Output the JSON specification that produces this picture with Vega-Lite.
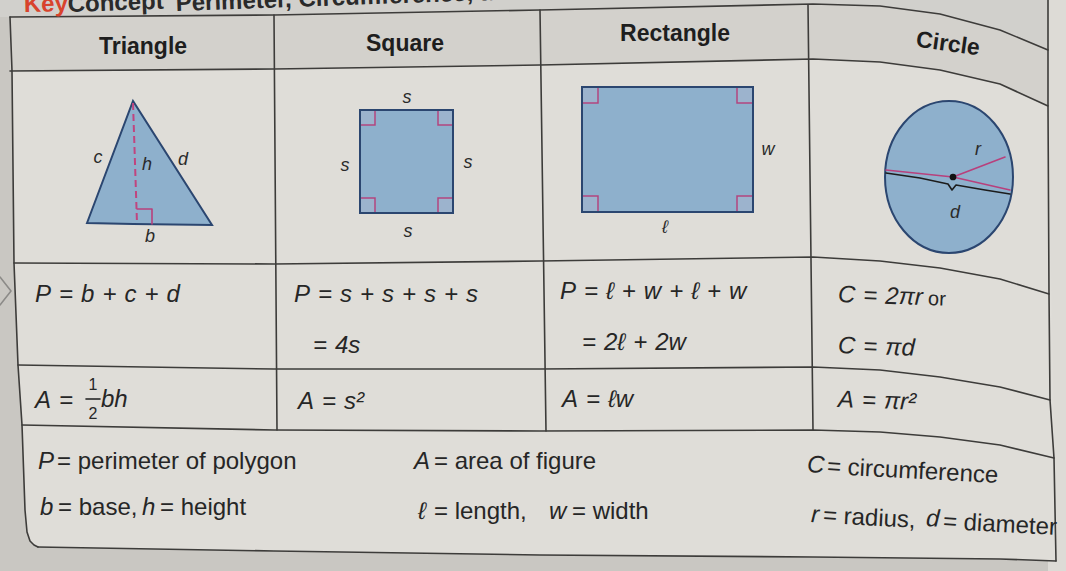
{
  "$schema": "https://vega.github.io/schema/vega-lite/v6.json",
  "width": 1066,
  "height": 571,
  "autosize": {"type": "none"},
  "padding": 0,
  "background": "#c9c7c2",
  "config": {"view": {"stroke": null}},
  "encoding": {
    "x": {"field": "x", "type": "quantitative", "scale": {"domain": [0, 1066], "nice": false, "zero": false}, "axis": null},
    "y": {"field": "y", "type": "quantitative", "scale": {"domain": [0, 571], "reverse": true, "nice": false, "zero": false}, "axis": null}
  },
  "datasets": {
    "strip": [{"x": 1048, "x2": 1066, "y": 0, "y2": 571}],
    "regions": [
      {"part": "title", "x": 0, "y": 0, "y2": 17},
      {"part": "title", "x": 10, "y": 0, "y2": 17},
      {"part": "title", "x": 274, "y": 0, "y2": 15},
      {"part": "title", "x": 540, "y": 0, "y2": 10},
      {"part": "title", "x": 813, "y": 0, "y2": 4},
      {"part": "title", "x": 880, "y": 0, "y2": 6},
      {"part": "title", "x": 940, "y": 0, "y2": 14},
      {"part": "title", "x": 1000, "y": 0, "y2": 30},
      {"part": "title", "x": 1048, "y": 0, "y2": 50},
      {"part": "header", "x": 10, "y": 17, "y2": 71},
      {"part": "header", "x": 274, "y": 15, "y2": 69},
      {"part": "header", "x": 540, "y": 10, "y2": 65},
      {"part": "header", "x": 813, "y": 4, "y2": 59},
      {"part": "header", "x": 880, "y": 6, "y2": 62},
      {"part": "header", "x": 940, "y": 14, "y2": 70},
      {"part": "header", "x": 1000, "y": 30, "y2": 84},
      {"part": "header", "x": 1048, "y": 50, "y2": 106},
      {"part": "body", "x": 12, "y": 71, "y2": 71},
      {"part": "body", "x": 14, "y": 71, "y2": 263},
      {"part": "body", "x": 18, "y": 71, "y2": 365},
      {"part": "body", "x": 22, "y": 71, "y2": 425},
      {"part": "body", "x": 25, "y": 71, "y2": 510},
      {"part": "body", "x": 27, "y": 71, "y2": 532},
      {"part": "body", "x": 30, "y": 71, "y2": 541},
      {"part": "body", "x": 34, "y": 71, "y2": 545},
      {"part": "body", "x": 38, "y": 71, "y2": 547},
      {"part": "body", "x": 274, "y": 69, "y2": 551},
      {"part": "body", "x": 540, "y": 65, "y2": 555},
      {"part": "body", "x": 813, "y": 59, "y2": 557},
      {"part": "body", "x": 880, "y": 62, "y2": 558},
      {"part": "body", "x": 940, "y": 70, "y2": 558},
      {"part": "body", "x": 1000, "y": 84, "y2": 559},
      {"part": "body", "x": 1048, "y": 106, "y2": 561},
      {"part": "body", "x": 1056, "y": 540, "y2": 561}
    ],
    "tri": [
      {"x": 87, "y": 223, "y2": 223},
      {"x": 133, "y": 101, "y2": 224},
      {"x": 212, "y": 225, "y2": 225}
    ],
    "shapes": [
      {"shape": "square", "x": 360, "x2": 453, "y": 110, "y2": 213},
      {"shape": "rectangle", "x": 582, "x2": 753, "y": 87, "y2": 212}
    ],
    "corners": [
      {"x": 360, "x2": 375, "y": 110, "y2": 125},
      {"x": 438, "x2": 453, "y": 110, "y2": 125},
      {"x": 360, "x2": 375, "y": 198, "y2": 213},
      {"x": 438, "x2": 453, "y": 198, "y2": 213},
      {"x": 582, "x2": 598, "y": 87, "y2": 103},
      {"x": 737, "x2": 753, "y": 87, "y2": 103},
      {"x": 582, "x2": 598, "y": 196, "y2": 212},
      {"x": 737, "x2": 753, "y": 196, "y2": 212}
    ],
    "ell": [{"x": 949, "y": 177}],
    "dot": [{"x": 953, "y": 177}],
    "dashed": [
      {"seq": 1, "x": 133, "y": 103},
      {"seq": 2, "x": 137, "y": 223}
    ],
    "paths": [
      {"id": "top", "ink": "grid", "seq": 1, "x": 10, "y": 17},
      {"id": "top", "ink": "grid", "seq": 2, "x": 274, "y": 15},
      {"id": "top", "ink": "grid", "seq": 3, "x": 540, "y": 10},
      {"id": "top", "ink": "grid", "seq": 4, "x": 813, "y": 4},
      {"id": "top", "ink": "grid", "seq": 5, "x": 880, "y": 6},
      {"id": "top", "ink": "grid", "seq": 6, "x": 940, "y": 14},
      {"id": "top", "ink": "grid", "seq": 7, "x": 1000, "y": 30},
      {"id": "top", "ink": "grid", "seq": 8, "x": 1048, "y": 50},
      {"id": "hb", "ink": "grid", "seq": 1, "x": 10, "y": 71},
      {"id": "hb", "ink": "grid", "seq": 2, "x": 274, "y": 69},
      {"id": "hb", "ink": "grid", "seq": 3, "x": 540, "y": 65},
      {"id": "hb", "ink": "grid", "seq": 4, "x": 813, "y": 59},
      {"id": "hb", "ink": "grid", "seq": 5, "x": 880, "y": 62},
      {"id": "hb", "ink": "grid", "seq": 6, "x": 940, "y": 70},
      {"id": "hb", "ink": "grid", "seq": 7, "x": 1000, "y": 84},
      {"id": "hb", "ink": "grid", "seq": 8, "x": 1048, "y": 106},
      {"id": "r1", "ink": "grid", "seq": 1, "x": 14, "y": 263},
      {"id": "r1", "ink": "grid", "seq": 2, "x": 274, "y": 264},
      {"id": "r1", "ink": "grid", "seq": 3, "x": 540, "y": 261},
      {"id": "r1", "ink": "grid", "seq": 4, "x": 813, "y": 257},
      {"id": "r1", "ink": "grid", "seq": 5, "x": 880, "y": 261},
      {"id": "r1", "ink": "grid", "seq": 6, "x": 940, "y": 268},
      {"id": "r1", "ink": "grid", "seq": 7, "x": 1000, "y": 279},
      {"id": "r1", "ink": "grid", "seq": 8, "x": 1049, "y": 294},
      {"id": "r2", "ink": "grid", "seq": 1, "x": 18, "y": 365},
      {"id": "r2", "ink": "grid", "seq": 2, "x": 274, "y": 369},
      {"id": "r2", "ink": "grid", "seq": 3, "x": 540, "y": 369},
      {"id": "r2", "ink": "grid", "seq": 4, "x": 813, "y": 367},
      {"id": "r2", "ink": "grid", "seq": 5, "x": 880, "y": 370},
      {"id": "r2", "ink": "grid", "seq": 6, "x": 940, "y": 377},
      {"id": "r2", "ink": "grid", "seq": 7, "x": 1000, "y": 387},
      {"id": "r2", "ink": "grid", "seq": 8, "x": 1050, "y": 400},
      {"id": "r3", "ink": "grid", "seq": 1, "x": 22, "y": 425},
      {"id": "r3", "ink": "grid", "seq": 2, "x": 274, "y": 430},
      {"id": "r3", "ink": "grid", "seq": 3, "x": 540, "y": 431},
      {"id": "r3", "ink": "grid", "seq": 4, "x": 813, "y": 430},
      {"id": "r3", "ink": "grid", "seq": 5, "x": 880, "y": 432},
      {"id": "r3", "ink": "grid", "seq": 6, "x": 940, "y": 437},
      {"id": "r3", "ink": "grid", "seq": 7, "x": 1000, "y": 445},
      {"id": "r3", "ink": "grid", "seq": 8, "x": 1054, "y": 458},
      {"id": "bot", "ink": "grid", "seq": 1, "x": 38, "y": 547},
      {"id": "bot", "ink": "grid", "seq": 2, "x": 274, "y": 551},
      {"id": "bot", "ink": "grid", "seq": 3, "x": 540, "y": 555},
      {"id": "bot", "ink": "grid", "seq": 4, "x": 813, "y": 557},
      {"id": "bot", "ink": "grid", "seq": 5, "x": 1000, "y": 559},
      {"id": "bot", "ink": "grid", "seq": 6, "x": 1056, "y": 561},
      {"id": "left", "ink": "grid", "seq": 1, "x": 10, "y": 17},
      {"id": "left", "ink": "grid", "seq": 2, "x": 12, "y": 71},
      {"id": "left", "ink": "grid", "seq": 3, "x": 14, "y": 263},
      {"id": "left", "ink": "grid", "seq": 4, "x": 18, "y": 365},
      {"id": "left", "ink": "grid", "seq": 5, "x": 22, "y": 425},
      {"id": "left", "ink": "grid", "seq": 6, "x": 25, "y": 510},
      {"id": "left", "ink": "grid", "seq": 7, "x": 27, "y": 532},
      {"id": "left", "ink": "grid", "seq": 8, "x": 30, "y": 541},
      {"id": "left", "ink": "grid", "seq": 9, "x": 34, "y": 545},
      {"id": "left", "ink": "grid", "seq": 10, "x": 38, "y": 547},
      {"id": "right", "ink": "grid", "seq": 1, "x": 1048, "y": 0},
      {"id": "right", "ink": "grid", "seq": 2, "x": 1048, "y": 106},
      {"id": "right", "ink": "grid", "seq": 3, "x": 1049, "y": 294},
      {"id": "right", "ink": "grid", "seq": 4, "x": 1050, "y": 400},
      {"id": "right", "ink": "grid", "seq": 5, "x": 1054, "y": 458},
      {"id": "right", "ink": "grid", "seq": 6, "x": 1056, "y": 561},
      {"id": "v1", "ink": "grid", "seq": 1, "x": 274, "y": 15},
      {"id": "v1", "ink": "grid", "seq": 2, "x": 277, "y": 430},
      {"id": "v2", "ink": "grid", "seq": 1, "x": 540, "y": 10},
      {"id": "v2", "ink": "grid", "seq": 2, "x": 546, "y": 431},
      {"id": "v3", "ink": "grid", "seq": 1, "x": 808, "y": 5},
      {"id": "v3", "ink": "grid", "seq": 2, "x": 813, "y": 430},
      {"id": "chev", "ink": "chev", "seq": 1, "x": 0, "y": 277},
      {"id": "chev", "ink": "chev", "seq": 2, "x": 11, "y": 291},
      {"id": "chev", "ink": "chev", "seq": 3, "x": 0, "y": 305},
      {"id": "tright", "ink": "magenta", "seq": 1, "x": 137, "y": 209},
      {"id": "tright", "ink": "magenta", "seq": 2, "x": 152, "y": 209},
      {"id": "tright", "ink": "magenta", "seq": 3, "x": 152, "y": 224},
      {"id": "diam", "ink": "magenta", "seq": 1, "x": 886, "y": 170},
      {"id": "diam", "ink": "magenta", "seq": 2, "x": 953, "y": 177},
      {"id": "diam", "ink": "magenta", "seq": 3, "x": 1010, "y": 190},
      {"id": "rad", "ink": "magenta", "seq": 1, "x": 953, "y": 177},
      {"id": "rad", "ink": "magenta", "seq": 2, "x": 1005, "y": 157},
      {"id": "brace", "ink": "black", "seq": 1, "x": 886, "y": 173},
      {"id": "brace", "ink": "black", "seq": 2, "x": 920, "y": 178},
      {"id": "brace", "ink": "black", "seq": 3, "x": 948, "y": 184},
      {"id": "brace", "ink": "black", "seq": 4, "x": 952, "y": 190},
      {"id": "brace", "ink": "black", "seq": 5, "x": 956, "y": 185},
      {"id": "brace", "ink": "black", "seq": 6, "x": 985, "y": 190},
      {"id": "brace", "ink": "black", "seq": 7, "x": 1010, "y": 194},
      {"id": "frac", "ink": "black", "seq": 1, "x": 86, "y": 399},
      {"id": "frac", "ink": "black", "seq": 2, "x": 100, "y": 399}
    ],
    "texts": [
      {"t": "Key", "kind": "titleKey", "x": 24, "y": 12},
      {"t": "Concept", "kind": "title", "x": 68, "y": 12},
      {"t": "Perimeter, Circumference, and Area", "kind": "title", "x": 176, "y": 11},
      {"t": "Triangle", "kind": "head", "x": 143, "y": 47},
      {"t": "Square", "kind": "head", "x": 405, "y": 44},
      {"t": "Rectangle", "kind": "head", "x": 675, "y": 34},
      {"t": "Circle", "kind": "headTilt", "x": 948, "y": 44},
      {"t": "c", "kind": "lab", "x": 98, "y": 158},
      {"t": "h", "kind": "lab", "x": 147, "y": 165},
      {"t": "d", "kind": "lab", "x": 183, "y": 160},
      {"t": "b", "kind": "lab", "x": 150, "y": 237},
      {"t": "s", "kind": "lab", "x": 407, "y": 98},
      {"t": "s", "kind": "lab", "x": 345, "y": 166},
      {"t": "s", "kind": "lab", "x": 468, "y": 163},
      {"t": "s", "kind": "lab", "x": 408, "y": 232},
      {"t": "w", "kind": "lab", "x": 768, "y": 150},
      {"t": "ℓ", "kind": "lab", "x": 665, "y": 228},
      {"t": "r", "kind": "lab", "x": 978, "y": 150},
      {"t": "d", "kind": "lab", "x": 955, "y": 213},
      {"t": "P\u2004=\u2004b\u2004+\u2004c\u2004+\u2004d", "kind": "math", "x": 35, "y": 295},
      {"t": "P\u2004=\u2004s\u2004+\u2004s\u2004+\u2004s\u2004+\u2004s", "kind": "math", "x": 294, "y": 295},
      {"t": "=\u20044s", "kind": "math", "x": 313, "y": 346},
      {"t": "P\u2004=\u2004ℓ\u2004+\u2004w\u2004+\u2004ℓ\u2004+\u2004w", "kind": "math", "x": 560, "y": 292},
      {"t": "=\u20042ℓ\u2004+\u20042w", "kind": "math", "x": 582, "y": 343},
      {"t": "A\u2004=", "kind": "math", "x": 35, "y": 401},
      {"t": "bh", "kind": "math", "x": 101, "y": 400},
      {"t": "A\u2004=\u2004s²", "kind": "math", "x": 298, "y": 402},
      {"t": "A\u2004=\u2004ℓw", "kind": "math", "x": 562, "y": 400},
      {"t": "C\u2004=\u20042πr", "kind": "mathC", "x": 838, "y": 295},
      {"t": "C\u2004=\u2004πd", "kind": "mathC", "x": 838, "y": 346},
      {"t": "A\u2004=\u2004πr²", "kind": "mathC", "x": 838, "y": 400},
      {"t": "or", "kind": "or", "x": 928, "y": 299},
      {"t": "1", "kind": "frac", "x": 93, "y": 385},
      {"t": "2", "kind": "frac", "x": 93, "y": 414},
      {"t": "P", "kind": "var", "x": 38, "y": 462},
      {"t": "= perimeter of polygon", "kind": "word", "x": 57, "y": 462},
      {"t": "b", "kind": "var", "x": 40, "y": 508},
      {"t": "= base,", "kind": "word", "x": 58, "y": 508},
      {"t": "h", "kind": "var", "x": 142, "y": 508},
      {"t": "= height", "kind": "word", "x": 160, "y": 508},
      {"t": "A", "kind": "var", "x": 414, "y": 462},
      {"t": "= area of figure", "kind": "word", "x": 434, "y": 462},
      {"t": "ℓ", "kind": "var", "x": 418, "y": 512},
      {"t": "= length,", "kind": "word", "x": 434, "y": 512},
      {"t": "w", "kind": "var", "x": 549, "y": 512},
      {"t": "= width", "kind": "word", "x": 572, "y": 512},
      {"t": "C", "kind": "varC", "x": 807, "y": 465},
      {"t": "= circumference", "kind": "wordC", "x": 827, "y": 467},
      {"t": "r", "kind": "varC", "x": 811, "y": 515},
      {"t": "= radius,", "kind": "wordC", "x": 823, "y": 516},
      {"t": "d", "kind": "varC", "x": 926, "y": 519},
      {"t": "= diameter", "kind": "wordC", "x": 943, "y": 522}
    ]
  },
  "layer": [
    {
      "data": {"name": "strip"},
      "mark": {"type": "rect", "color": "#dddbd6"},
      "encoding": {"x2": {"field": "x2"}, "y2": {"field": "y2"}}
    },
    {
      "data": {"name": "regions"},
      "mark": {"type": "area", "interpolate": "linear"},
      "encoding": {
        "y": {"field": "y", "type": "quantitative", "stack": null, "scale": {"domain": [0, 571], "reverse": true, "nice": false, "zero": false}, "axis": null},
        "y2": {"field": "y2"},
        "color": {"field": "part", "type": "nominal", "scale": {"domain": ["title", "header", "body"], "range": ["#d1d0cc", "#d3d1cc", "#dfddd8"]}, "legend": null}
      }
    },
    {
      "data": {"name": "tri"},
      "mark": {"type": "area", "fill": "#8eb0cc", "stroke": "#2b4670", "strokeWidth": 2, "strokeJoin": "miter", "interpolate": "linear"},
      "encoding": {
        "y": {"field": "y", "type": "quantitative", "stack": null, "scale": {"domain": [0, 571], "reverse": true, "nice": false, "zero": false}, "axis": null},
        "y2": {"field": "y2"}
      }
    },
    {
      "data": {"name": "shapes"},
      "mark": {"type": "rect", "fill": "#8eb0cc", "stroke": "#2b4670", "strokeWidth": 2},
      "encoding": {"x2": {"field": "x2"}, "y2": {"field": "y2"}}
    },
    {
      "data": {"name": "corners"},
      "mark": {"type": "rect", "fill": "#9cb3cd", "stroke": "#b2457f", "strokeWidth": 1.5},
      "encoding": {"x2": {"field": "x2"}, "y2": {"field": "y2"}}
    },
    {
      "data": {"name": "shapes"},
      "mark": {"type": "rect", "fill": "#8eb0cc", "fillOpacity": 0, "stroke": "#2b4670", "strokeWidth": 2},
      "encoding": {"x2": {"field": "x2"}, "y2": {"field": "y2"}}
    },
    {
      "data": {"name": "ell"},
      "mark": {"type": "point", "shape": "M0,-1C0.465,-1 0.842,-0.552 0.842,0C0.842,0.552 0.465,1 0,1C-0.465,1 -0.842,0.552 -0.842,0C-0.842,-0.552 -0.465,-1 0,-1Z", "size": 23104, "filled": true, "fill": "#8eb0cc", "stroke": "#2b4670", "strokeWidth": 2, "opacity": 1}
    },
    {
      "data": {"name": "paths"},
      "mark": {"type": "line", "strokeWidth": 1.6, "strokeCap": "round", "strokeJoin": "round"},
      "encoding": {
        "detail": {"field": "id"},
        "order": {"field": "seq", "type": "quantitative"},
        "color": {"field": "ink", "type": "nominal", "scale": {"domain": ["grid", "magenta", "black", "chev"], "range": ["#3d3c3a", "#b8407c", "#1c1c1c", "#8c8b88"]}, "legend": null}
      }
    },
    {
      "data": {"name": "dashed"},
      "mark": {"type": "line", "color": "#c0457f", "strokeWidth": 2, "strokeDash": [7, 4]},
      "encoding": {"order": {"field": "seq", "type": "quantitative"}}
    },
    {
      "data": {"name": "dot"},
      "mark": {"type": "point", "filled": true, "color": "#111111", "size": 45, "opacity": 1}
    },
    {
      "data": {"name": "texts"},
      "transform": [{"filter": "datum.kind === 'titleKey'"}],
      "mark": {"type": "text", "font": "Liberation Sans", "fontSize": 24, "fontWeight": "bold", "align": "left", "baseline": "alphabetic", "color": "#d8432c", "angle": -1},
      "encoding": {"text": {"field": "t"}}
    },
    {
      "data": {"name": "texts"},
      "transform": [{"filter": "datum.kind === 'title'"}],
      "mark": {"type": "text", "font": "Liberation Sans", "fontSize": 24, "fontWeight": "bold", "align": "left", "baseline": "alphabetic", "color": "#2a2a2a", "angle": -2},
      "encoding": {"text": {"field": "t"}}
    },
    {
      "data": {"name": "texts"},
      "transform": [{"filter": "datum.kind === 'head'"}],
      "mark": {"type": "text", "font": "Liberation Sans", "fontSize": 23, "fontWeight": "bold", "align": "center", "baseline": "middle", "color": "#1e1e1e"},
      "encoding": {"text": {"field": "t"}}
    },
    {
      "data": {"name": "texts"},
      "transform": [{"filter": "datum.kind === 'headTilt'"}],
      "mark": {"type": "text", "font": "Liberation Sans", "fontSize": 23, "fontWeight": "bold", "align": "center", "baseline": "middle", "color": "#1e1e1e", "angle": 8},
      "encoding": {"text": {"field": "t"}}
    },
    {
      "data": {"name": "texts"},
      "transform": [{"filter": "datum.kind === 'lab'"}],
      "mark": {"type": "text", "font": "Liberation Sans", "fontSize": 18, "fontStyle": "italic", "align": "center", "baseline": "middle", "color": "#2a2a2a"},
      "encoding": {"text": {"field": "t"}}
    },
    {
      "data": {"name": "texts"},
      "transform": [{"filter": "datum.kind === 'math'"}],
      "mark": {"type": "text", "font": "Liberation Sans", "fontSize": 24, "fontStyle": "italic", "align": "left", "baseline": "middle", "color": "#262626"},
      "encoding": {"text": {"field": "t"}}
    },
    {
      "data": {"name": "texts"},
      "transform": [{"filter": "datum.kind === 'mathC'"}],
      "mark": {"type": "text", "font": "Liberation Sans", "fontSize": 24, "fontStyle": "italic", "align": "left", "baseline": "middle", "color": "#262626", "angle": 2},
      "encoding": {"text": {"field": "t"}}
    },
    {
      "data": {"name": "texts"},
      "transform": [{"filter": "datum.kind === 'or'"}],
      "mark": {"type": "text", "font": "Liberation Sans", "fontSize": 20, "align": "left", "baseline": "middle", "color": "#262626", "angle": 2},
      "encoding": {"text": {"field": "t"}}
    },
    {
      "data": {"name": "texts"},
      "transform": [{"filter": "datum.kind === 'frac'"}],
      "mark": {"type": "text", "font": "Liberation Sans", "fontSize": 16, "align": "center", "baseline": "middle", "color": "#262626"},
      "encoding": {"text": {"field": "t"}}
    },
    {
      "data": {"name": "texts"},
      "transform": [{"filter": "datum.kind === 'var'"}],
      "mark": {"type": "text", "font": "Liberation Sans", "fontSize": 24, "fontStyle": "italic", "align": "left", "baseline": "middle", "color": "#262626"},
      "encoding": {"text": {"field": "t"}}
    },
    {
      "data": {"name": "texts"},
      "transform": [{"filter": "datum.kind === 'word'"}],
      "mark": {"type": "text", "font": "Liberation Sans", "fontSize": 24, "align": "left", "baseline": "middle", "color": "#262626"},
      "encoding": {"text": {"field": "t"}}
    },
    {
      "data": {"name": "texts"},
      "transform": [{"filter": "datum.kind === 'varC'"}],
      "mark": {"type": "text", "font": "Liberation Sans", "fontSize": 24, "fontStyle": "italic", "align": "left", "baseline": "middle", "color": "#262626", "angle": 3},
      "encoding": {"text": {"field": "t"}}
    },
    {
      "data": {"name": "texts"},
      "transform": [{"filter": "datum.kind === 'wordC'"}],
      "mark": {"type": "text", "font": "Liberation Sans", "fontSize": 24, "align": "left", "baseline": "middle", "color": "#262626", "angle": 3},
      "encoding": {"text": {"field": "t"}}
    }
  ],
  "resolve": {"scale": {"color": "independent"}}
}
